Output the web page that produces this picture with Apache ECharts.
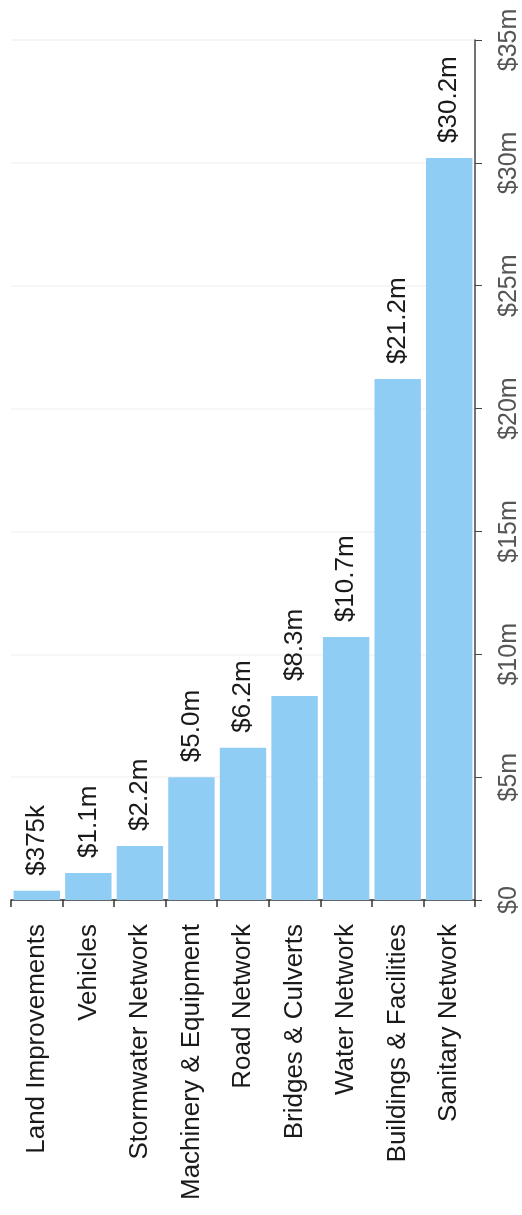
<!DOCTYPE html>
<html>
<head>
<meta charset="utf-8">
<script src="https://cdn.jsdelivr.net/npm/echarts@6/dist/echarts.min.js"></script>
<style>
html,body{margin:0;padding:0;background:#fff;}
#chart{width:522px;height:1215px;}
</style>
</head>
<body>
<div id="chart"></div>
<script>
const categories = ['Land Improvements','Vehicles','Stormwater Network','Machinery & Equipment','Road Network','Bridges & Culverts','Water Network','Buildings & Facilities','Sanitary Network'];
const values = [0.375, 1.1, 2.2, 5.0, 6.2, 8.3, 10.7, 21.2, 30.2];
const valueLabels = ['$375k','$1.1m','$2.2m','$5.0m','$6.2m','$8.3m','$10.7m','$21.2m','$30.2m'];
const axisMin = 0, axisMax = 35, axisStep = 5;

const chart = echarts.init(document.getElementById('chart'));
chart.setOption({
  animation: false,
  backgroundColor: '#fff',
  grid: { left: 11, right: 47, top: 40, bottom: 315, containLabel: false },
  xAxis: {
    type: 'category',
    data: categories,
    axisLine: { lineStyle: { color: '#333', width: 1.5 } },
    axisTick: { show: true, length: 7, lineStyle: { color: '#333', width: 1.5 } },
    axisLabel: {
      rotate: 90, margin: 24, interval: 0,
      fontFamily: 'Liberation Sans, Arial, sans-serif', fontSize: 26, color: '#1a1a1a'
    }
  },
  yAxis: {
    type: 'value',
    position: 'right',
    min: axisMin, max: axisMax, interval: axisStep,
    axisLine: { show: true, lineStyle: { color: '#444', width: 1.5 } },
    axisTick: { show: true, length: 7, lineStyle: { color: '#444', width: 1 } },
    splitLine: { show: true, lineStyle: { color: '#f3f3f3', width: 1.5 } },
    axisLabel: {
      rotate: 90, margin: 22,
      fontFamily: 'Liberation Sans, Arial, sans-serif', fontSize: 25, color: '#555',
      formatter: v => v === 0 ? '$0' : '$' + v + 'm'
    }
  },
  series: [{
    type: 'bar',
    data: values,
    barCategoryGap: '10%',
    itemStyle: { color: '#8fcdf4' },
    label: {
      show: true, position: 'top', rotate: 90, align: 'left', verticalAlign: 'middle',
      distance: 15,
      fontFamily: 'Liberation Sans, Arial, sans-serif', fontSize: 26, color: '#1a1a1a',
      formatter: p => valueLabels[p.dataIndex]
    }
  }]
});
</script>
</body>
</html>
